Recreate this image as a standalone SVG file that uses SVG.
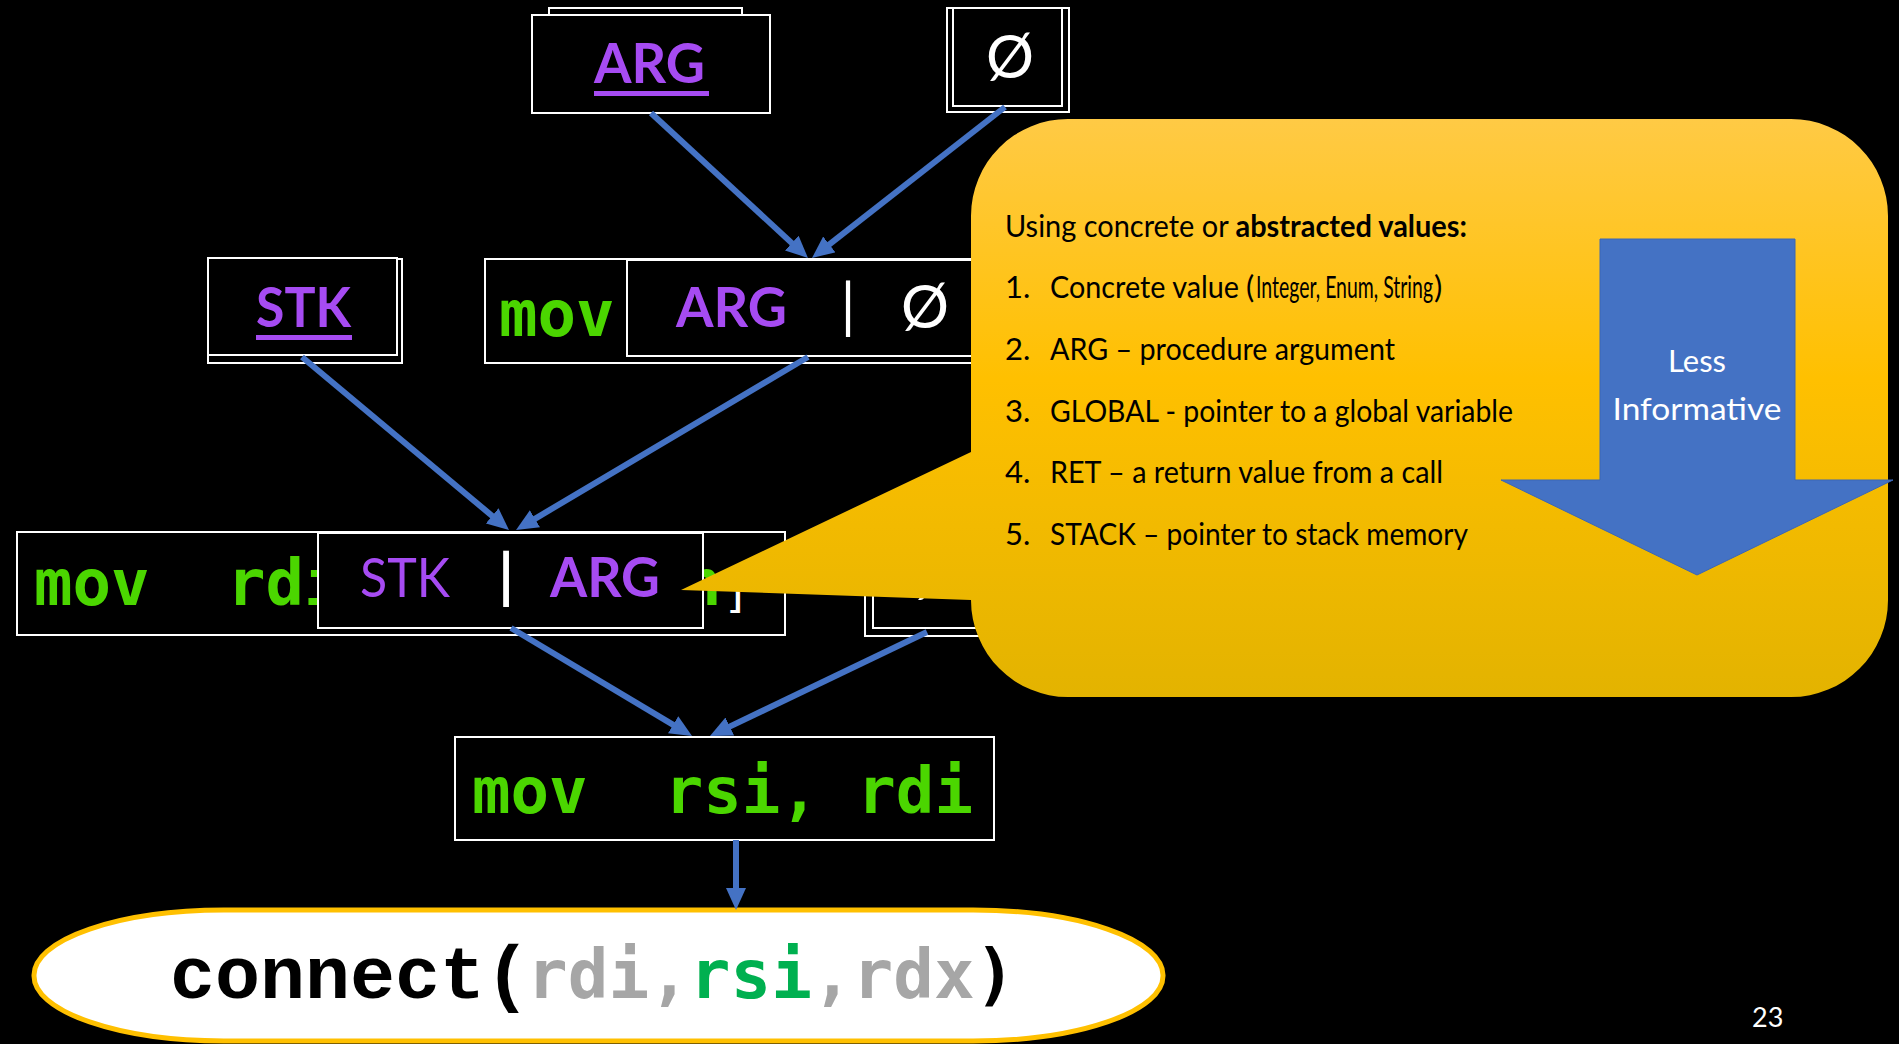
<svg xmlns="http://www.w3.org/2000/svg" width="1899" height="1044" viewBox="0 0 1899 1044">
<defs>
<style>
.box{fill:#000;stroke:#fff;stroke-width:2}
.ln{fill:none;stroke:#fff;stroke-width:2}
.lab{font-family:Lato,"Liberation Sans",sans-serif;font-weight:700;font-size:55px;fill:#A64BF2}
.labr{font-family:Lato,"Liberation Sans",sans-serif;font-weight:400;font-size:55px;fill:#A64BF2}
.ul{fill:#A64BF2}
.code{font-family:"DejaVu Sans Mono",monospace;font-weight:700;font-size:64px;fill:#4BD600}
.sym{font-family:Lato,"Liberation Sans",sans-serif;font-weight:400;font-size:60px;fill:#fff}
.conn{stroke:#4472C4;stroke-width:6;fill:none;marker-end:url(#ah)}
.ct{font-family:Lato,"Liberation Sans",sans-serif;font-size:31px;fill:#000}
.wt{font-family:Lato,"Liberation Sans",sans-serif;font-size:31px;fill:#fff}
.cx{font-family:"DejaVu Sans Mono",monospace;font-weight:700;font-size:67.6px}
</style>
<marker id="ah" markerUnits="userSpaceOnUse" viewBox="0 0 22 20" markerWidth="22" markerHeight="20" refX="6" refY="10" orient="auto"><path d="M0,0 L22,10 L0,20 z" fill="#4472C4"/></marker>
<linearGradient id="gold" gradientUnits="userSpaceOnUse" x1="0" y1="119" x2="0" y2="697"><stop offset="0" stop-color="#FFCA45"/><stop offset="0.45" stop-color="#FFC000"/><stop offset="1" stop-color="#E3B300"/></linearGradient>
</defs>
<rect width="1899" height="1044" fill="#000"/>

<g id="n-arg-top">
<rect class="box" x="549" y="8" width="193" height="40"/>
<rect class="box" x="532" y="15" width="238" height="98"/>
<text class="lab" x="594" y="83" textLength="111" lengthAdjust="spacingAndGlyphs">ARG</text>
<rect class="ul" x="594" y="91" width="115" height="5"/>
</g>

<g id="n-null-top">
<rect class="box" x="947" y="8" width="122" height="104"/>
<rect class="ln" x="953" y="8" width="109" height="98"/>
<text class="sym" x="1010" y="78" text-anchor="middle">Ø</text>
</g>

<g id="n-stk">
<rect class="box" x="208" y="259" width="194" height="104"/>
<rect class="box" x="208" y="258" width="189" height="97"/>
<text class="lab" x="256" y="327" textLength="95" lengthAdjust="spacingAndGlyphs">STK</text>
<rect class="ul" x="256" y="335" width="96" height="5"/>
</g>

<g id="n-mov-arg-null">
<rect class="box" x="485" y="259" width="520" height="104"/>
<rect class="box" x="627" y="260" width="380" height="96"/>
<text class="code" x="499" y="336">mov</text>
<text class="lab" x="676" y="327" textLength="111" lengthAdjust="spacingAndGlyphs">ARG</text>
<text class="sym" x="848" y="327" text-anchor="middle" font-size="46" font-weight="300">|</text>
<text class="sym" x="925" y="328" text-anchor="middle">Ø</text>
</g>

<g id="n-mov-rdi">
<rect class="box" x="17" y="532" width="768" height="103"/>
<text class="code" y="605"><tspan x="34">mov</tspan><tspan x="227">rdi</tspan></text>
<text class="code" x="683" y="605">n</text>
<text x="730" y="603" font-family="Liberation Sans, sans-serif" font-size="48" fill="#fff">]</text>
<rect class="box" x="318" y="533" width="385" height="95"/>
<text class="labr" x="360" y="597" textLength="90" lengthAdjust="spacingAndGlyphs">STK</text>
<text x="506" y="597" text-anchor="middle" font-family="Lato, sans-serif" font-weight="700" font-size="60" fill="#fff">|</text>
<text class="lab" x="550" y="597" textLength="110" lengthAdjust="spacingAndGlyphs">ARG</text>
</g>

<g id="n-right">
<rect class="box" x="865" y="529" width="140" height="107"/>
<rect class="ln" x="873" y="529" width="130" height="99"/>
<text class="sym" x="938" y="597" text-anchor="middle" font-size="55" fill="#A6A6A6">Ø</text>
</g>

<g id="n-mov-rsi">
<rect class="box" x="455" y="737" width="539" height="103"/>
<text class="code" x="472" y="813" xml:space="preserve">mov  rsi, rdi</text>
</g>

<g id="n-connect">
<rect x="34" y="910" width="1129" height="131" rx="190" ry="65" fill="#fff" stroke="#FFC000" stroke-width="5"/>
<text y="998"><tspan x="170" font-family="Liberation Mono, monospace" font-weight="700" font-size="75" fill="#000">connect(</tspan><tspan class="cx" x="527" fill="#A6A6A6">rdi,</tspan><tspan class="cx" fill="#00B050">rsi</tspan><tspan class="cx" fill="#A6A6A6">,rdx</tspan><tspan class="cx" fill="#000">)</tspan></text>
</g>

<g id="connectors">
<line class="conn" x1="651" y1="113" x2="796.2" y2="247.1"/>
<line class="conn" x1="1005" y1="107" x2="824.6" y2="248.1"/>
<line class="conn" x1="302" y1="357" x2="496.7" y2="519.7"/>
<line class="conn" x1="808" y1="357" x2="529.8" y2="521.8"/>
<line class="conn" x1="511" y1="628" x2="678.3" y2="727.8"/>
<line class="conn" x1="927" y1="632" x2="724.4" y2="729.1"/>
<line class="conn" x1="736" y1="840" x2="736" y2="894"/>
</g>

<g id="callout">
<path d="M1068,119 H1791 A97,97 0 0 1 1888,216 V600 A97,97 0 0 1 1791,697 H1068 A97,97 0 0 1 971,600 L681,590 L971,452 V216 A97,97 0 0 1 1068,119 Z" fill="url(#gold)"/>
<text class="ct" x="1005" y="237" textLength="462" lengthAdjust="spacingAndGlyphs">Using concrete or <tspan font-weight="700">abstracted values:</tspan></text>
<text class="ct" x="1005" y="298">1.</text>
<text class="ct" x="1050" y="298" textLength="189" lengthAdjust="spacingAndGlyphs">Concrete value</text>
<text class="ct" x="1246" y="298" font-size="32">(</text>
<text class="ct" x="1256" y="298" font-size="18" textLength="177" lengthAdjust="spacingAndGlyphs">Integer, Enum, String</text>
<text class="ct" x="1434" y="298" font-size="32">)</text>
<text class="ct" x="1005" y="360">2.</text>
<text class="ct" x="1050" y="360" textLength="345" lengthAdjust="spacingAndGlyphs">ARG – procedure argument</text>
<text class="ct" x="1005" y="422">3.</text>
<text class="ct" x="1050" y="422" textLength="463" lengthAdjust="spacingAndGlyphs">GLOBAL - pointer to a global variable</text>
<text class="ct" x="1005" y="483">4.</text>
<text class="ct" x="1050" y="483" textLength="393" lengthAdjust="spacingAndGlyphs">RET – a return value from a call</text>
<text class="ct" x="1005" y="545">5.</text>
<text class="ct" x="1050" y="545" textLength="418" lengthAdjust="spacingAndGlyphs">STACK – pointer to stack memory</text>
</g>

<g id="less-informative">
<polygon points="1600,239 1795,239 1795,480 1893,480 1697,575 1501,480 1600,480" fill="#4472C4" stroke="#3B66B5" stroke-width="1"/>
<text class="wt" x="1697" y="372" text-anchor="middle">Less</text>
<text class="wt" x="1697" y="420" text-anchor="middle" textLength="169" lengthAdjust="spacingAndGlyphs">Informative</text>
</g>

<text x="1752" y="1027" font-family="Lato, sans-serif" font-size="27" fill="#fff">23</text>
</svg>
